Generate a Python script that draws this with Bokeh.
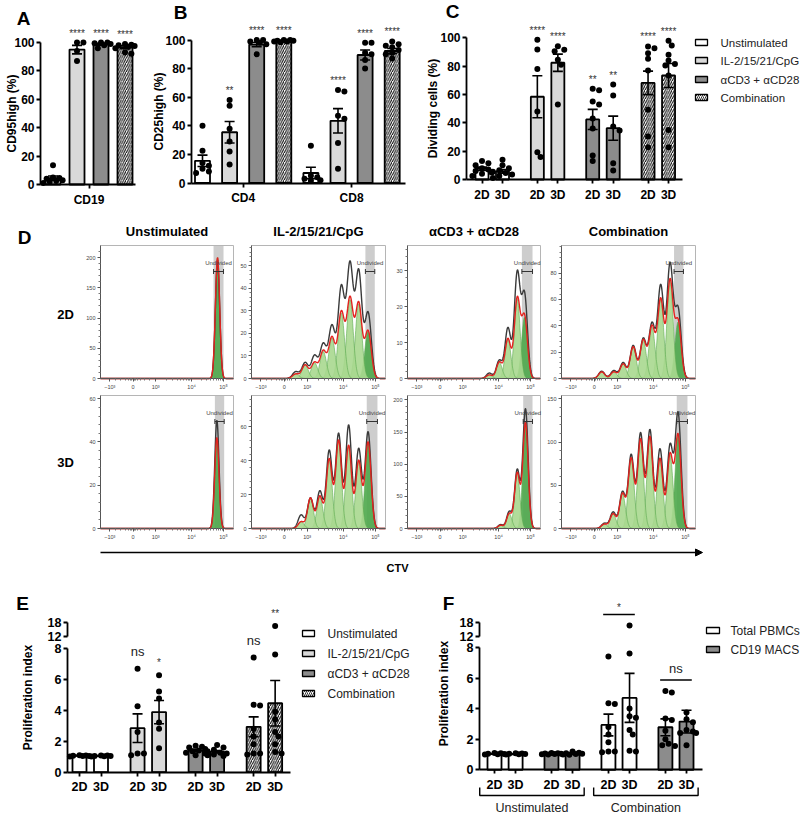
import math
import numpy as np
from bokeh.plotting import figure
from bokeh.models import Range1d, LinearAxis, FixedTicker, Spacer, Arrow, NormalHead
from bokeh.layouts import row, column
from bokeh.embed import file_html
from bokeh.resources import INLINE
from bokeh.core.properties import value

FONT = "Liberation Sans"

# ======================= DATA =======================
treatments = ["Unstimulated", "IL-2/15/21/CpG", "αCD3 + αCD28", "Combination"]
conditions = ["2D", "3D"]

# Panel A : CD95high (%) on CD19
A_category = "CD19"
A_mean = [4.5, 95.0, 98.8, 96.6]
A_sem = [1.5, 3.0, 0.7, 1.0]
A_points = [
    [13.5, 5.0, 4.5, 4.0, 3.0, 2.5, 2.0, 1.0],
    [100, 100, 94, 87],
    [100, 100, 99.5, 99, 98, 96],
    [99, 98.5, 98, 97.5, 97, 96, 93, 92],
]
A_sig = ["", "****", "****", "****"]

# Panel B : CD25high (%)
B_subsets = ["CD4", "CD8"]
B_mean_CD4 = [15.5, 35.5, 96.8, 99.3]
B_sem_CD4 = [4.0, 7.5, 1.5, 0.3]
B_points_CD4 = [[40, 22.5, 14, 12, 10, 8, 7], [58, 54, 38, 29, 22, 13],
                [100, 100, 99, 98, 97, 90], [100, 100, 99.5, 99.5, 99, 99, 98.5]]
B_sig_CD4 = ["", "**", "****", "****"]
B_mean_CD8 = [7.0, 43.5, 89.5, 92.3]
B_sem_CD8 = [4.0, 8.5, 3.5, 1.8]
B_points_CD8 = [[26, 5, 4, 3, 2, 1.5], [65, 64, 47, 45, 28, 10],
                [98, 98, 91, 90, 86, 80], [99, 97, 96, 95, 93, 91, 90, 87]]
B_sig_CD8 = ["", "****", "****", "****"]

# Panel C : Dividing cells (%)
C_mean_2D = [7.5, 58.4, 42.4, 68.2]
C_sem_2D = [1.2, 14.8, 7.1, 8.3]
C_mean_3D = [5.8, 82.4, 36.2, 73.4]
C_sem_3D = [1.3, 6.1, 8.5, 8.5]
C_points_2D = [[13, 11.5, 10, 8, 7, 6, 5, 4, 2.5], [98.6, 91.8, 78, 48, 19.3, 15.8],
               [64, 63, 55, 53, 43, 36, 17, 13], [93.9, 92.7, 89.2, 85.2, 77, 49.2, 30.4, 22.8]]
C_points_3D = [[14, 10, 8, 6.5, 5.5, 4.5, 3.5, 2.5, 1], [94, 91.5, 90.5, 84.5, 81, 53],
               [67, 59.3, 37.4, 34.6, 11.5, 6.4], [98, 94.6, 88, 84, 81.6, 80.5, 73.4, 35, 22.8]]
C_sig_2D = ["", "****", "**", "****"]
C_sig_3D = ["", "****", "**", "****"]

# Panel D : CTV histograms (peak position on display axis, fitted & observed peak heights)
hist_titles = ["Unstimulated", "IL-2/15/21/CpG", "αCD3 + αCD28", "Combination"]
hist_ymax_2D = [220, 59, 37, 101]
hist_ymax_3D = [61.5, 78.6, 207, 154]
hist_yticks_2D = [[0, 50, 100, 150, 200], [0, 10, 20, 30, 40, 50], [0, 10, 20, 30], [0, 20, 40, 60, 80]]
hist_yticks_3D = [[0, 20, 40, 60], [0, 20, 40, 60], [0, 50, 100, 150, 200], [0, 50, 100, 150]]
hist_pos_2D = [[0.88], [0.87, 0.80, 0.735, 0.67, 0.60, 0.535, 0.47, 0.40, 0.33],
               [0.88, 0.825, 0.755, 0.69, 0.615], [0.87, 0.81, 0.74, 0.675, 0.61, 0.535, 0.46, 0.39, 0.30]]
hist_fit_2D = [[200], [21, 33, 35, 29, 18, 12, 7, 6, 2], [17, 22, 11, 4.5, 1], [43, 74, 60, 39, 29, 24, 11, 5, 5]]
hist_obs_2D = [[196], [29, 47, 50, 40, 23, 15, 10, 7, 3], [23, 29, 14, 5, 1.5], [52, 86, 70, 41, 30, 25, 12, 6, 5.5]]
hist_pos_3D = [[0.875], [0.87, 0.80, 0.725, 0.65, 0.58, 0.51, 0.44, 0.37],
               [0.887, 0.825, 0.765, 0.70], [0.87, 0.81, 0.735, 0.66, 0.59, 0.52, 0.455, 0.385, 0.32]]
hist_fit_3D = [[42], [51, 40, 49, 52, 41, 19, 18, 4], [164, 86, 23, 5], [108, 85, 81, 106, 103, 81, 40, 17, 5]]
hist_obs_3D = [[50], [57, 47, 61, 56, 46, 22, 18, 8], [186, 91, 26, 6], [133, 95, 92, 114, 110, 85, 42, 19, 6]]
hist_band_2D = [(0.85, 0.925), (0.85, 0.92), (0.86, 0.94), (0.84, 0.91)]
hist_band_3D = [(0.86, 0.93), (0.86, 0.94), (0.87, 0.94), (0.86, 0.94)]
hist_xtick_labels = ["−10³", "0", "10³", "10⁴", "10⁵"]

# Panel E : Proliferation index
E_mean_2D = [1.07, 2.84, 1.40, 2.93]
E_sem_2D = [0.02, 0.92, 0.07, 0.64]
E_mean_3D = [1.05, 3.88, 1.32, 4.45]
E_sem_3D = [0.02, 0.75, 0.08, 1.47]
E_points_2D = [[1.1, 1.08, 1.06, 1.05, 1.04, 1.02], [6.67, 4.25, 2.6, 1.2, 1.2, 1.1],
               [1.7, 1.65, 1.6, 1.5, 1.4, 1.35, 1.25, 1.2, 1.1],
               [7.4, 4.35, 4.3, 2.8, 2.3, 1.8, 1.2, 1.2, 1.15]]
E_points_3D = [[1.08, 1.07, 1.05, 1.04, 1.03, 1.02], [6.25, 5.2, 4.75, 3.2, 2.8, 1.55],
               [1.75, 1.6, 1.45, 1.35, 1.25, 1.2, 1.15, 1.1, 1.05],
               [16.7, 7.6, 3.9, 3.4, 2.6, 2.3, 1.8, 1.3, 1.2]]
E_sig_2D = ["", "ns", "", "ns"]
E_sig_3D = ["", "*", "", "**"]

# Panel F : Proliferation index, Total PBMCs vs CD19 MACS
F_stimuli = ["Unstimulated", "Combination"]
F_series = ["Total PBMCs", "CD19 MACS"]
F_mean_2D = [1.04, 1.05, 2.93, 2.78]
F_sem_2D = [0.02, 0.02, 0.71, 0.55]
F_mean_3D = [1.03, 1.04, 4.70, 3.15]
F_sem_3D = [0.02, 0.03, 1.60, 0.74]
F_points_2D = [[1.1, 1.08, 1.05, 1.04, 1.02, 1.0], [1.1, 1.08, 1.06, 1.05, 1.03, 1.02, 1.0],
               [7.4, 4.35, 4.3, 2.8, 2.3, 1.8, 1.2, 1.2, 1.15],
               [5.15, 5.05, 3.35, 3.25, 2.55, 2.0, 1.7, 1.6, 1.55]]
F_points_3D = [[1.08, 1.06, 1.05, 1.04, 1.02, 1.0], [1.2, 1.12, 1.08, 1.05, 1.03, 1.0, 0.98],
               [16.7, 7.6, 4.0, 3.5, 3.4, 2.6, 2.3, 1.25, 1.2],
               [3.75, 3.3, 3.1, 2.6, 2.5, 2.4, 2.4, 1.6]]
F_sig = ["", "", "*", "ns"]

# ======================= STYLE =======================
treat_fill = ["white", "#d9d9d9", "#8c8c8c", "white"]
treat_hatch = [None, None, None, "/"]
F_fill = ["white", "#8c8c8c", "white", "#8c8c8c"]


def disp(v):
    """broken axis: 0-8 linear, then 12-18 compressed"""
    return v if v <= 8 else 8.73 + (v - 12) * 0.15


class Panel:
    def __init__(self, left, top, right, bottom, x0, xs, y0, ys):
        self.x0, self.xs, self.y0, self.ys = x0, xs, y0, ys
        p = figure(width=right - left, height=bottom - top,
                   x_range=Range1d((left - x0) / xs, (right - x0) / xs),
                   y_range=Range1d((y0 - bottom) / ys, (y0 - top) / ys),
                   x_axis_location=None, y_axis_location=None, title=None,
                   min_border=0, outline_line_color=None,
                   toolbar_location=None, output_backend="svg")
        p.xgrid.visible = False
        p.ygrid.visible = False
        self.p = p

    def X(self, px):
        return (px - self.x0) / self.xs

    def Y(self, py):
        return (self.y0 - py) / self.ys

    def label(self, px, py, txt, size, style="normal", angle=0.0, align="center",
              baseline="middle", color="black"):
        self.text(self.X(px), self.Y(py), txt, size, style, angle, align, baseline, color)

    def text(self, x, y, txt, size, style="normal", angle=0.0, align="center",
             baseline="middle", color="black"):
        self.p.text(x=[x], y=[y], text=[txt], angle=angle, text_font=value(FONT),
                    text_font_size=size, text_font_style=style, text_align=align,
                    text_baseline=baseline, text_color=color)


def style_axis(ax, size="11px", bold=True, color="black", lw=1.8, tick_out=4, standoff=3,
               label_color="black"):
    ax.axis_line_color = color
    ax.axis_line_width = lw
    ax.major_tick_line_color = color
    ax.major_tick_line_width = lw
    ax.major_tick_out = int(tick_out)
    ax.major_tick_in = 0
    ax.minor_tick_line_color = None
    ax.major_label_text_font = FONT
    ax.major_label_text_font_size = size
    ax.major_label_text_font_style = "bold" if bold else "normal"
    ax.major_label_text_color = label_color
    ax.major_label_standoff = int(standoff)


def yaxis(P, px_x, lo, hi, ticks, labels=None, size="12px"):
    ax = LinearAxis(fixed_location=P.X(px_x), bounds=(lo, hi), ticker=FixedTicker(ticks=ticks))
    if labels:
        ax.major_label_overrides = labels
    style_axis(ax, size, standoff=2)
    P.p.add_layout(ax, "left")


def xaxis(P, px_from, px_to, ticks, labels, size="12px"):
    ax = LinearAxis(fixed_location=0, bounds=(P.X(px_from), P.X(px_to)),
                    ticker=FixedTicker(ticks=ticks), major_label_overrides=labels)
    style_axis(ax, size, standoff=4)
    P.p.add_layout(ax, "below")


def swarm(py_list, d=6.0, step=3.2):
    placed, offs = [], []
    for py in py_list:
        chosen, best, bestdx = None, -1.0, 0.0
        for k in [0, 1, -1, 2, -2, 3, -3]:
            dx = k * step
            mind = min([math.hypot(dx - ox, py - oy) for ox, oy in placed], default=99.0)
            if mind >= d * 0.9:
                chosen = dx
                break
            if mind > best:
                best, bestdx = mind, dx
        if chosen is None:
            chosen = bestdx
        placed.append((chosen, py))
        offs.append(chosen)
    return offs


def draw_bars(P, xcs, means, sems, pts_list, fills, hatches, bar_px, cap_px=5, tr=lambda v: v,
              sig=None, sig_gap=12):
    p = P.p
    w = bar_px / P.xs
    c = cap_px / P.xs
    for x, m, s, pts, fc, ht in zip(xcs, means, sems, pts_list, fills, hatches):
        p.vbar(x=[x], top=[tr(m)], bottom=0, width=w, fill_color=fc, line_color="black",
               line_width=1.8, hatch_pattern=ht, hatch_color="black", hatch_scale=4.5,
               hatch_weight=1.0)
        lo, hi = tr(m - s), tr(m + s)
        p.segment(x0=[x, x - c, x - c], y0=[lo, hi, lo], x1=[x, x + c, x + c], y1=[hi, hi, lo],
                  line_color="black", line_width=1.6)
        offs = swarm([-tr(v) * P.ys for v in pts])
        p.scatter(x=[x + o / P.xs for o in offs], y=[tr(v) for v in pts], size=6,
                  fill_color="black", line_color=None)
    if sig:
        for x, pts, st in zip(xcs, pts_list, sig):
            if not st:
                continue
            top = tr(max(pts))
            if st == "ns":
                P.text(x, top + (sig_gap + 2) / P.ys, st, "13px", color="#222")
            else:
                P.text(x, top + (sig_gap - 2.5) / P.ys, st, "10px", color="#333")


def legend(P, sq_l, sq_r, rows, labels, fills, hatches, text_x, size):
    for ry, lab, fc, ht in zip(rows, labels, fills, hatches):
        P.p.quad(left=[P.X(sq_l)], right=[P.X(sq_r)], top=[P.Y(ry - 3)], bottom=[P.Y(ry + 3)],
                 fill_color=fc, line_color="black", line_width=1.3, hatch_pattern=ht,
                 hatch_color="black", hatch_scale=4, hatch_weight=0.8)
        P.label(text_x, ry, lab, size, align="left", color="#222")


def keyed(vals, labs):
    return {v: l for v, l in zip(vals, labs)}


Y100 = [0, 20, 40, 60, 80, 100]

# ---------------- Panel A ----------------
PA = Panel(0, 0, 140, 210, 52.5, 24.0, 184.0, 1.42)
yaxis(PA, 40, 0, 100, Y100)
xaxis(PA, 40, 135, [1.5], {1.5: A_category}, size="12px")
draw_bars(PA, [0, 1, 2, 3], A_mean, A_sem, A_points, treat_fill, treat_hatch, 15, sig=A_sig)
PA.label(23, 18, "A", "19px", "bold")
PA.label(11, 113, "CD95high (%)", "12px", "bold", angle=math.pi / 2)

# ---------------- Panel B ----------------
PB = Panel(140, 0, 420, 210, 202.0, 27.1, 182.5, 1.43)
yaxis(PB, 191, 0, 100, Y100)
xaxis(PB, 191, 405, [1.5, 5.5], keyed([1.5, 5.5], B_subsets), size="12px")
draw_bars(PB, [0, 1, 2, 3], B_mean_CD4, B_sem_CD4, B_points_CD4, treat_fill, treat_hatch, 15, sig=B_sig_CD4)
draw_bars(PB, [4, 5, 6, 7], B_mean_CD8, B_sem_CD8, B_points_CD8, treat_fill, treat_hatch, 15, sig=B_sig_CD8)
PB.label(180, 12, "B", "19px", "bold")
PB.label(158, 111, "CD25high (%)", "12px", "bold", angle=math.pi / 2)

# ---------------- Panel C ----------------
PC = Panel(420, 0, 800, 210, 481.5, 20.5, 179.0, 1.4167)
cx2 = [round(g * 2.7, 3) for g in range(4)]
cx3 = [round(g * 2.7 + 1, 3) for g in range(4)]
yaxis(PC, 466, 0, 100, Y100)
xaxis(PC, 466, 682, sorted(cx2 + cx3),
      {**keyed(cx2, ["2D"] * 4), **keyed(cx3, ["3D"] * 4)}, size="12px")
draw_bars(PC, cx2, C_mean_2D, C_sem_2D, C_points_2D, treat_fill, treat_hatch, 13, sig=C_sig_2D)
draw_bars(PC, cx3, C_mean_3D, C_sem_3D, C_points_3D, treat_fill, treat_hatch, 13, sig=C_sig_3D)
legend(PC, 695, 707, [42, 60, 79, 97], treatments, treat_fill, treat_hatch, 720, "11.5px")
PC.label(452, 11, "C", "19px", "bold")
PC.label(432, 108, "Dividing cells (%)", "12px", "bold", angle=math.pi / 2)

# ---------------- Panel D ----------------
hist_fig_x = [(84, 236), (236, 389), (389, 543), (543, 700)]
hist_box_x = [(100, 233), (251, 385), (407, 540), (561, 695)]
hist_fig_y = [(240, 392), (392, 542)]
hist_box_y = [(245, 378), (395, 528)]
hist_xtick_pos = [0.07, 0.245, 0.415, 0.685, 0.925]
hist_xminor = sorted([0.415 + math.log10(k) * 0.27 for k in range(2, 10)] +
                     [0.685 + math.log10(k) * 0.24 for k in range(2, 10)] +
                     [0.11, 0.15, 0.19, 0.21, 0.225, 0.235, 0.255, 0.265, 0.28, 0.30, 0.33, 0.37])
hist_sigma = [[0.016, 0.024, 0.022, 0.023], [0.016, 0.022, 0.02, 0.022]]


def hist_panel(r, c):
    fl, fr = hist_fig_x[c]
    ft, fb = hist_fig_y[r]
    bl, br = hist_box_x[c]
    bt, bb = hist_box_y[r]
    ymax = [hist_ymax_2D, hist_ymax_3D][r][c]
    yt = [hist_yticks_2D, hist_yticks_3D][r][c]
    pos = [hist_pos_2D, hist_pos_3D][r][c]
    fit = [hist_fit_2D, hist_fit_3D][r][c]
    obs = [hist_obs_2D, hist_obs_3D][r][c]
    b0, b1 = [hist_band_2D, hist_band_3D][r][c]
    sig = hist_sigma[r][c]
    P = Panel(fl, ft, fr, fb, bl, br - bl, bb, (bb - bt) / ymax)
    p = P.p
    p.quad(left=[b0], right=[b1], bottom=[0], top=[ymax], fill_color="#cdcdcd", line_color=None)
    xg = np.linspace(0.0, 1.0, 500)
    red = np.zeros_like(xg)
    blk = np.zeros_like(xg)
    for k, (m, h, o) in enumerate(zip(pos, fit, obs)):
        g = np.exp(-0.5 * ((xg - m) / sig) ** 2)
        red += h * g
        blk += o * g
        mask = g > 0.004
        p.varea(x=xg[mask], y1=0, y2=h * g[mask],
                fill_color="#4ea84b" if k == 0 else "#a9d88f", fill_alpha=0.9)
        p.line(x=xg[mask], y=h * g[mask], line_color="#5da950", line_width=0.6)
    p.line(x=xg, y=blk, line_color="#3a3a3a", line_width=1.4)
    p.line(x=xg, y=red, line_color="#e3231f", line_width=1.4)
    p.quad(left=[0], right=[1], bottom=[0], top=[ymax], fill_color=None, line_color="#b5b5b5",
           line_width=1)
    # Undivided gate
    xc = (b0 + b1) / 2
    P.text(xc, P.Y(bt + 17), "Undivided", "6px", color="#444")
    yb = P.Y(bt + 26)
    ch = 2.5 / P.ys
    p.segment(x0=[b0, b0, b1], y0=[yb, yb - ch, yb - ch], x1=[b1, b0, b1], y1=[yb, yb + ch, yb + ch],
              line_color="#333", line_width=1)
    # axes
    step = yt[1] - yt[0]
    yminor = [v for v in np.arange(0, ymax, step / 5.0).round(3).tolist() if v not in yt]
    ay = LinearAxis(fixed_location=0, bounds=(0, ymax), ticker=FixedTicker(ticks=yt, minor_ticks=yminor))
    style_axis(ay, "5.5px", bold=False, color="#555", lw=1, tick_out=3, standoff=2, label_color="#444")
    ay.minor_tick_line_color = "#777"
    ay.minor_tick_out = 2
    ay.minor_tick_in = 0
    p.add_layout(ay, "left")
    ax = LinearAxis(fixed_location=0, bounds=(0, 1),
                    ticker=FixedTicker(ticks=hist_xtick_pos, minor_ticks=hist_xminor),
                    major_label_overrides=keyed(hist_xtick_pos, hist_xtick_labels))
    style_axis(ax, "5.5px", bold=False, color="#555", lw=1, tick_out=3, standoff=2, label_color="#444")
    ax.minor_tick_line_color = "#777"
    ax.minor_tick_out = 2
    ax.minor_tick_in = 0
    p.add_layout(ax, "below")
    return p


PD = Panel(0, 210, 84, 580, 0, 1, 0, -1)
PD.label(24, 237, "D", "19px", "bold")
PD.label(65, 314, conditions[0], "13px", "bold")
PD.label(65, 462, conditions[1], "13px", "bold")

PT = Panel(84, 210, 800, 240, 0, 1, 0, -1)
for (bl, br), t in zip(hist_box_x, hist_titles):
    PT.label((bl + br) / 2, 231, t, "13px", "bold")

PAR = Panel(84, 542, 800, 580, 0, 1, 0, -1)
PAR.p.add_layout(Arrow(end=NormalHead(size=7, fill_color="black", line_color="black"),
                       x_start=100, y_start=552, x_end=702, y_end=552,
                       line_color="black", line_width=1.5))
PAR.label(397, 567, "CTV", "11px", "bold")

hist_rows = []
for r in range(2):
    figs = [hist_panel(r, c) for c in range(4)]
    figs.append(Spacer(width=100, height=hist_fig_y[r][1] - hist_fig_y[r][0]))
    hist_rows.append(row(*figs))

# ---------------- Panel E ----------------
PE = Panel(0, 580, 420, 813, 79.0, 21.5, 771.7, 15.5)
t12, t18 = round(disp(12), 3), round(disp(18), 3)
yaxis(PE, 67, 0, 8, [0, 2, 4, 6, 8], size="12.5px")
yaxis(PE, 67, t12, t18, [t12, t18], {t12: "12", t18: "18"}, size="12.5px")
ex2 = [round(g * 2.7, 3) for g in range(4)]
ex3 = [round(g * 2.7 + 1, 3) for g in range(4)]
xaxis(PE, 67, 290, sorted(ex2 + ex3), {**keyed(ex2, ["2D"] * 4), **keyed(ex3, ["3D"] * 4)}, size="12.5px")
draw_bars(PE, ex2, E_mean_2D, E_sem_2D, E_points_2D, treat_fill, treat_hatch, 14, tr=disp, sig=E_sig_2D, sig_gap=15)
draw_bars(PE, ex3, E_mean_3D, E_sem_3D, E_points_3D, treat_fill, treat_hatch, 14, tr=disp, sig=E_sig_3D, sig_gap=15)
legend(PE, 302, 314, [633, 653, 673, 693], treatments, treat_fill, treat_hatch, 327, "12px")
PE.label(22, 603, "E", "19px", "bold")
PE.label(27, 697, "Proliferation index", "12px", "bold", angle=math.pi / 2)

# ---------------- Panel F ----------------
PF = Panel(420, 580, 800, 813, 494.0, 21.1, 769.3, 15.3)
yaxis(PF, 479, 0, 8, [0, 2, 4, 6, 8], size="12.5px")
yaxis(PF, 479, t12, t18, [t12, t18], {t12: "12", t18: "18"}, size="12.5px")
fx2 = [round(g * 2.7, 3) for g in range(4)]
fx3 = [round(g * 2.7 + 1, 3) for g in range(4)]
xaxis(PF, 479, 702, sorted(fx2 + fx3), {**keyed(fx2, ["2D"] * 4), **keyed(fx3, ["3D"] * 4)}, size="12.5px")
draw_bars(PF, fx2, F_mean_2D, F_sem_2D, F_points_2D, F_fill, [None] * 4, 14, tr=disp)
draw_bars(PF, fx3, F_mean_3D, F_sem_3D, F_points_3D, F_fill, [None] * 4, 14, tr=disp)
for g, st in enumerate(F_sig):
    if not st:
        continue
    top = max(disp(max(F_points_2D[g])), disp(max(F_points_3D[g])))
    yl = top + 11 / PF.ys
    PF.p.segment(x0=[fx2[g] - 0.25], y0=[yl], x1=[fx3[g] + 0.25], y1=[yl], line_color="black", line_width=1.6)
    xm = (fx2[g] + fx3[g]) / 2
    if st == "ns":
        PF.text(xm, yl + 12 / PF.ys, st, "13px", color="#222")
    else:
        PF.text(xm, yl + 7 / PF.ys, st, "10px", color="#333")
# group brackets below the axis
for s, stim in enumerate(F_stimuli):
    xl = fx2[2 * s] - 0.7
    xr = fx3[2 * s + 1] + 0.55
    yb = PF.Y(795)
    yt_ = PF.Y(787)
    PF.p.line(x=[xl, xl, xr, xr], y=[yt_, yb, yb, yt_], line_color="black", line_width=1.4)
    PF.text((xl + xr) / 2, PF.Y(807), stim, "12.5px", baseline="middle", color="#222")
legend(PF, 706, 719, [630, 649], F_series, ["white", "#8c8c8c"], [None, None], 730, "12px")
PF.label(448, 603, "F", "19px", "bold")
PF.label(443, 693, "Proliferation index", "12px", "bold", angle=math.pi / 2)

# ---------------- layout ----------------
row1 = row(PA.p, PB.p, PC.p)
right_col = column(PT.p, hist_rows[0], hist_rows[1], PAR.p)
row2 = row(PD.p, right_col)
row3 = row(PE.p, PF.p)
layout = column(row1, row2, row3)

open("out.html", "w").write(file_html(layout, INLINE))
